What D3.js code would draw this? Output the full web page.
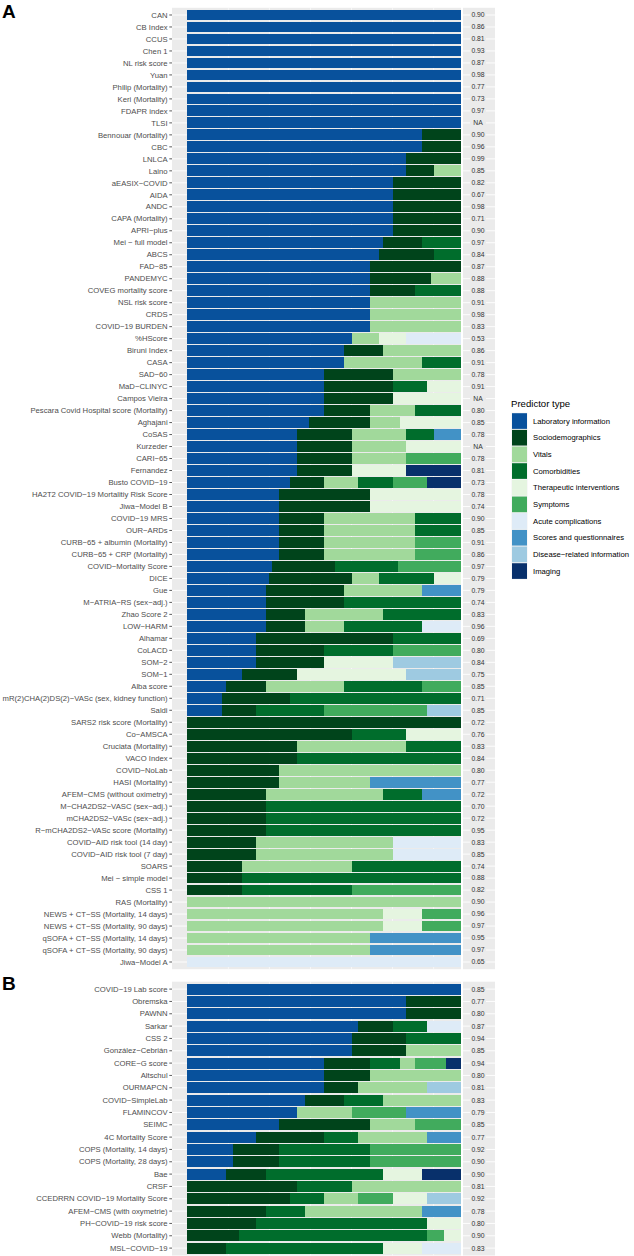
<!DOCTYPE html>
<html>
<head>
<meta charset="utf-8">
<script src="https://cdn.jsdelivr.net/npm/d3@7"></script>
<style>
  html, body { margin: 0; padding: 0; background: #ffffff; }
  svg { display: block; }
  text { font-family: "Liberation Sans", Arial, Helvetica, sans-serif; }
</style>
</head>
<body>
<svg id="chart" width="634" height="1256"></svg>
<script>
// ---------- DATA ----------
const predictorTypes = ["Laboratory information","Sociodemographics","Vitals","Comorbidities","Therapeutic interventions","Symptoms","Acute complications","Scores and questionnaires","Disease\u2212related information","Imaging"];
const typeCodes = ["L","S","V","C","T","Y","A","Q","D","I"];
const typeColors = ["#08519C","#00441B","#A1D99B","#006D2C","#E5F5E0","#41AB5D","#DEEBF7","#4292C6","#9ECAE1","#08306B"];

const modelsA = ["CAN","CB Index","CCUS","Chen 1","NL risk score","Yuan","Philip (Mortality)","Keri (Mortality)","FDAPR index","TLSI",
"Bennouar (Mortality)","CBC","LNLCA","Laino","aEASIX\u2212COVID","AIDA","ANDC","CAPA (Mortality)","APRI\u2212plus","Mei \u2212 full model",
"ABCS","FAD\u221285","PANDEMYC","COVEG mortality score","NSL risk score","CRDS","COVID\u221219 BURDEN","%HScore","Biruni Index","CASA",
"SAD\u221260","MaD\u2212CLINYC","Campos Vieira","Pescara Covid Hospital score (Mortality)","Aghajani","CoSAS","Kurzeder","CARI\u221265","Fernandez","Busto COVID\u221219",
"HA2T2 COVID\u221219 Mortalitiy Risk Score","Jiwa\u2212Model B","COVID\u221219 MRS","OUR\u2212ARDs","CURB\u221265 + albumin (Mortality)","CURB\u221265 + CRP (Mortality)","COVID\u2212Mortality Score","DICE","Gue","M\u2212ATRIA\u2212RS (sex\u2212adj.)",
"Zhao Score 2","LOW\u2212HARM","Alhamar","CoLACD","SOM\u22122","SOM\u22121","Alba score","mR(2)CHA(2)DS(2)\u2212VASc (sex, kidney function)","Saldi","SARS2 risk score (Mortality)",
"Co\u2212AMSCA","Cruciata (Mortality)","VACO Index","COVID\u2212NoLab","HASI (Mortality)","AFEM\u2212CMS (without oximetry)","M\u2212CHA2DS2\u2212VASC (sex\u2212adj.)","mCHA2DS2\u2212VASc (sex\u2212adj.)","R\u2212mCHA2DS2\u2212VASc score (Mortality)","COVID\u2212AID risk tool (14 day)",
"COVID\u2212AID risk tool (7 day)","SOARS","Mei \u2212 simple model","CSS 1","RAS (Mortality)","NEWS + CT\u2212SS (Mortality, 14 days)","NEWS + CT\u2212SS (Mortality, 90 days)","qSOFA + CT\u2212SS (Mortality, 14 days)","qSOFA + CT\u2212SS (Mortality, 90 days)","Jiwa\u2212Model A"];

const aucA = ["0.90","0.86","0.81","0.93","0.87","0.98","0.77","0.73","0.97","NA",
"0.90","0.96","0.99","0.85","0.82","0.67","0.98","0.71","0.90","0.97",
"0.84","0.87","0.88","0.88","0.91","0.98","0.83","0.53","0.86","0.91",
"0.78","0.91","NA","0.80","0.85","0.78","NA","0.78","0.81","0.73",
"0.78","0.74","0.90","0.85","0.91","0.86","0.97","0.79","0.79","0.74",
"0.83","0.96","0.69","0.80","0.84","0.75","0.85","0.71","0.85","0.72",
"0.76","0.83","0.84","0.80","0.77","0.72","0.70","0.72","0.95","0.83",
"0.85","0.74","0.88","0.82","0.90","0.96","0.97","0.95","0.97","0.65"];

// number of predictors of each type, in stacking order (code + count)
const compA = ["L1","L1","L1","L1","L1","L1","L1","L1","L1","L1",
"L6 S1","L6 S1","L4 S1","L8 S1 V1","L3 S1","L3 S1","L3 S1","L3 S1","L3 S1","L5 S1 C1",
"L7 S2 C1","L2 S1","L6 S2 V1","L4 S1 C1","L2 V1","L2 V1","L2 V1","L6 V1 T1 A2","L4 S1 V2","L4 V2 C1",
"L2 S1 V1","L4 S2 C1 T1","L2 S1 T1","L3 S1 V1 C1","L4 S2 V1 T2","L4 S2 V2 C1 Q1","L2 S1 V1 T1","L2 S1 V1 Y1","L2 S1 T1 I1","L3 S1 V1 C1 Y1 I1",
"L1 S1 T1","L1 S1 T1","L2 S1 V2 C1","L2 S1 V2 C1","L2 S1 V2 Y1","L2 S1 V2 Y1","L4 S3 C3 Y3","L3 S3 V1 C2 T1","L2 S2 V2 Q1","L2 S2 C3",
"L2 S1 V2 C2","L2 S1 V1 C2 A1","L1 S2 C1","L1 S1 C1 Y1","L1 S1 T1 D1","L1 S1 T2 D1","L1 S1 V2 C2 Y1","L1 S2 C5","L1 S1 C2 Y3 D1","S1",
"S3 C1 T1","S2 V2 C1","S2 C3","S1 V2","S1 V1 Q1","S2 V3 C1 Q1","S2 C5","S2 C5","S2 C5","S1 V2 A1",
"S1 V2 A1","S1 V2 C2","S1 C4","S1 C2 Y2","V1","V5 T1 Y1","V5 T1 Y1","V2 Q1","V2 Q1","A1"];

const modelsB = ["COVID\u221219 Lab score","Obremska","PAWNN","Sarkar","CSS 2","Gonz\u00e1lez\u2212Cebri\u00e1n","CORE\u2212G score","Altschul","OURMAPCN","COVID\u2212SimpleLab",
"FLAMINCOV","SEIMC","4C Mortality Score","COPS (Mortality, 14 days)","COPS (Mortality, 28 days)","Bae","CRSF","CCEDRRN COVID\u221219 Mortality Score","AFEM\u2212CMS (with oxymetrie)","PH\u2212COVID\u221219 risk score",
"Webb (Mortality)","MSL\u2212COVID\u221219"];

const aucB = ["0.85","0.77","0.80","0.87","0.94","0.85","0.94","0.80","0.81","0.83",
"0.79","0.85","0.77","0.92","0.90","0.90","0.81","0.92","0.78","0.80",
"0.90","0.83"];

const compB = ["L1","L4 S1","L4 S1","L5 S1 C1 A1","L3 S1 C1","L3 S1 V1","L9 S3 C2 V1 Y2 I1","L3 S1 V2","L4 S1 V2 D1","L3 S1 C1 V2",
"L2 V1 Y1 Q1","L2 S2 V1 Y1","L2 S2 C1 V2 Q1","L1 S1 C2 Y2","L1 S1 C2 Y2","L1 S1 C3 T1 I1","S2 C1 V2","S3 C1 V1 Y1 T1 D1","S2 C1 V3 Q1","S2 C5 T1",
"S3 C11 Y1 T1","S1 C4 T1 A1"];

const gridBreaks = [0.15, 0.30, 0.45, 0.60, 0.75, 0.90];
const legendTitle = "Predictor type";

// ---------- DRAW ----------
const svg = d3.select("#chart");
svg.append("rect").attr("width", 634).attr("height", 1256).attr("fill", "#ffffff");

const colorOf = d3.scaleOrdinal().domain(typeCodes).range(typeColors);
const x = d3.scaleLinear().domain([0, 1]).range([187.3, 461]);
const panelLeft = 172, panelRight = 461, stripLeft = 463, stripRight = 495;

function parseComp(s) {
  const parts = s.split(" ").map(p => ({ code: p[0], n: +p.slice(1) }));
  const total = d3.sum(parts, p => p.n);
  let acc = 0;
  return parts.map(p => {
    const seg = { code: p.code, x0: acc / total, x1: (acc + p.n) / total };
    acc += p.n;
    return seg;
  });
}

function drawPanel(models, auc, comp, top, bottom, letter, letterY) {
  const g = svg.append("g");
  const y = d3.scaleBand().domain(models).range([top, bottom]).paddingInner(0.1).paddingOuter(0.15);
  const mid = m => y(m) + y.bandwidth() / 2;

  g.append("rect").attr("x", panelLeft).attr("y", top).attr("width", panelRight - panelLeft)
    .attr("height", bottom - top).attr("fill", "#EBEBEB");
  g.append("rect").attr("x", stripLeft).attr("y", top).attr("width", stripRight - stripLeft)
    .attr("height", bottom - top).attr("fill", "#EBEBEB");

  // vertical grid lines
  g.selectAll(".vg").data(gridBreaks).join("line")
    .attr("x1", d => x(d)).attr("x2", d => x(d)).attr("y1", top).attr("y2", bottom)
    .attr("stroke", "#ffffff").attr("stroke-width", 0.6);
  // horizontal grid lines
  g.selectAll(".hg").data(models).join("line")
    .attr("x1", panelLeft).attr("x2", panelRight).attr("y1", mid).attr("y2", mid)
    .attr("stroke", "#ffffff").attr("stroke-width", 0.9);
  g.selectAll(".hg2").data(models).join("line")
    .attr("x1", stripLeft).attr("x2", stripRight).attr("y1", mid).attr("y2", mid)
    .attr("stroke", "#ffffff").attr("stroke-width", 0.9);

  // bars
  models.forEach((m, i) => {
    const segs = parseComp(comp[i]);
    g.selectAll(null).data(segs).join("rect")
      .attr("x", d => x(d.x0)).attr("width", d => x(d.x1) - x(d.x0))
      .attr("y", y(m)).attr("height", y.bandwidth())
      .attr("fill", d => colorOf(d.code))
      .attr("shape-rendering", "crispEdges");
  });

  // y axis ticks & labels
  g.selectAll(".tk").data(models).join("line")
    .attr("x1", panelLeft - 2.7).attr("x2", panelLeft).attr("y1", mid).attr("y2", mid)
    .attr("stroke", "#333333").attr("stroke-width", 0.8);
  g.selectAll(".lb").data(models).join("text")
    .attr("x", panelLeft - 4.4).attr("y", m => mid(m) + 2.7)
    .attr("text-anchor", "end").attr("font-size", 7.7).attr("fill", "#4D4D4D")
    .text(m => m);

  // AUC labels
  const cx = (stripLeft + stripRight) / 2 - 1;
  g.selectAll(".ab").data(auc).join("rect")
    .attr("x", cx - 8).attr("width", 16)
    .attr("y", (d, i) => mid(models[i]) - 3).attr("height", 6)
    .attr("fill", "#EBEBEB");
  g.selectAll(".at").data(auc).join("text")
    .attr("x", cx).attr("y", (d, i) => mid(models[i]) + 2.4)
    .attr("text-anchor", "middle").attr("font-size", 6.8).attr("fill", "#333333")
    .text(d => d);

  svg.append("text").attr("x", 2).attr("y", letterY)
    .attr("font-size", 19).attr("font-weight", "bold").attr("fill", "#000").text(letter);
}

drawPanel(modelsA, aucA, compA, 7.8, 969.2, "A", 18.4);
drawPanel(modelsB, aucB, compB, 981.7, 1255.5, "B", 990);

// legend
const lg = svg.append("g");
lg.append("text").attr("x", 511).attr("y", 406.5).attr("font-size", 9.6).attr("fill", "#000").text(legendTitle);
const ky = d3.scaleBand().domain(predictorTypes).range([412.7, 579.4]);
lg.selectAll(".kb").data(predictorTypes).join("rect")
  .attr("x", 511.5).attr("y", d => ky(d)).attr("width", 16).attr("height", ky.bandwidth())
  .attr("fill", "#F2F2F2");
lg.selectAll(".kr").data(predictorTypes).join("rect")
  .attr("x", 512).attr("y", d => ky(d) + 0.5).attr("width", 15).attr("height", ky.bandwidth() - 1)
  .attr("fill", (d, i) => typeColors[i]);
lg.selectAll(".kt").data(predictorTypes).join("text")
  .attr("x", 533).attr("y", d => ky(d) + ky.bandwidth() / 2 + 2.7)
  .attr("font-size", 7.7).attr("fill", "#000").text(d => d);
</script>
</body>
</html>
